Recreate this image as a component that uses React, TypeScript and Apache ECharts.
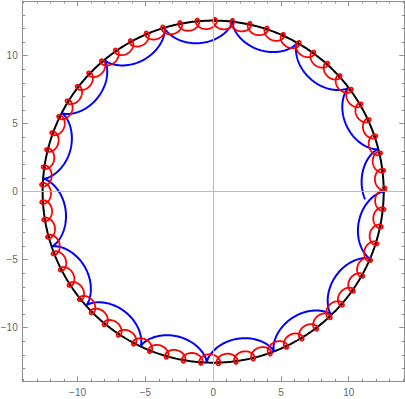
import React, { useEffect, useRef } from "react";
import * as echarts from "echarts";

// ---- values ----
const plotRangeX = [-14.05, 14.1];
const plotRangeY = [-13.95, 14.02];
const xTickValues = [-10, -5, 0, 5, 10];
const yTickValues = [-10, -5, 0, 5, 10];
const circleRadius = [12.58];
// roulette parameters: [arches (cusps / loops) per turn, pen distance / rolling radius, turns drawn]
const blueRoulette = [15.625, 1.0, 1];
const redRoulette = [61.2, 2.0, 1];

const FRAME = "#8f8f8f";
const LABEL = "#666666";
const ORIGIN = "#bdbdbd";
const FONT = "'Liberation Sans', Arial, sans-serif";

function roulette(R: number, k: number, lambda: number, turns: number, samples: number) {
  const r = R / k;
  const c = R - r;
  const d = lambda * r;
  const w = c / r;
  const pts: number[][] = [];
  for (let i = 0; i <= samples; i++) {
    const t = (2 * Math.PI * turns * i) / samples;
    pts.push([c * Math.cos(t) + d * Math.cos(w * t), -(c * Math.sin(t) - d * Math.sin(w * t))]);
  }
  return pts;
}

function circle(R: number, samples: number) {
  const pts: number[][] = [];
  for (let i = 0; i <= samples; i++) {
    const t = (2 * Math.PI * i) / samples;
    pts.push([R * Math.cos(t), R * Math.sin(t)]);
  }
  return pts;
}

function loopCentres(R: number, k: number, turns: number) {
  const pts: number[][] = [];
  for (let j = 0; j <= Math.floor(k * turns); j++) {
    const a = (-2 * Math.PI * j) / k;
    pts.push([R * Math.cos(a), R * Math.sin(a)]);
  }
  return pts;
}

function fmt(list: number[]) {
  return (v: number) => {
    const m = list.find((t) => Math.abs(t - v) < 1e-6);
    if (m === undefined) return "";
    return m < 0 ? "\u2212" + Math.abs(m) : String(m);
  };
}

function frameAxis(pos: string, range: number[], split: number, len: number, labels: number[] | null, showLine: boolean) {
  return {
    type: "value",
    position: pos,
    min: range[0],
    max: range[1],
    splitNumber: split,
    axisLine: { show: showLine, onZero: false, lineStyle: { color: FRAME, width: 1 } },
    axisTick: { show: true, inside: true, length: len, lineStyle: { color: FRAME, width: 1 } },
    axisLabel: labels
      ? { show: true, formatter: fmt(labels), color: LABEL, fontSize: 10, fontFamily: FONT, margin: pos === "bottom" ? 6 : 5 }
      : { show: false },
    splitLine: { show: false },
    minorTick: { show: false },
  };
}

export default function App() {
  const ref = useRef<HTMLDivElement>(null);
  useEffect(() => {
    const chart = echarts.init(ref.current!, undefined, { renderer: "svg" });
    const R = circleRadius[0];
    const option: any = {
      animation: false,
      grid: { left: 22.7, top: 1, width: 381.6, height: 380.3, containLabel: false, outerBoundsMode: "none" },
      xAxis: [
        frameAxis("bottom", plotRangeX, 6, 5, xTickValues, true),
        frameAxis("bottom", plotRangeX, 28, 2.5, null, false),
        frameAxis("top", plotRangeX, 6, 5, null, true),
        frameAxis("top", plotRangeX, 28, 2.5, null, false),
      ],
      yAxis: [
        frameAxis("left", plotRangeY, 6, 5, yTickValues, true),
        frameAxis("left", plotRangeY, 28, 2.5, null, false),
        frameAxis("right", plotRangeY, 6, 5, null, true),
        frameAxis("right", plotRangeY, 28, 2.5, null, false),
      ],
      series: [
        {
          type: "line",
          data: [],
          silent: true,
          markLine: {
            silent: true,
            symbol: "none",
            label: { show: false },
            lineStyle: { color: ORIGIN, width: 1, type: "solid" },
            data: [{ xAxis: 0 }, { yAxis: 0 }],
          },
        },
        {
          type: "line",
          data: circle(R, 720),
          showSymbol: false,
          symbol: "none",
          silent: true,
          lineStyle: { color: "#000000", width: 2 },
        },
        {
          type: "line",
          data: roulette(R, blueRoulette[0], blueRoulette[1], blueRoulette[2], 4000),
          showSymbol: false,
          symbol: "none",
          silent: true,
          lineStyle: { color: "#0000ff", width: 2 },
        },
        {
          type: "line",
          data: roulette(R, redRoulette[0], redRoulette[1], redRoulette[2], 16000),
          showSymbol: false,
          symbol: "none",
          silent: true,
          lineStyle: { color: "#ff0000", width: 1.8 },
        },
        {
          type: "scatter",
          data: loopCentres(R, redRoulette[0], redRoulette[2]),
          symbol: "circle",
          symbolSize: 3,
          silent: true,
          itemStyle: { color: "#000000" },
        },
      ],
    };
    chart.setOption(option);
    return () => chart.dispose();
  }, []);
  return <div ref={ref} style={{ position: "absolute", left: 0, top: 0, width: 405, height: 399 }} />;
}
